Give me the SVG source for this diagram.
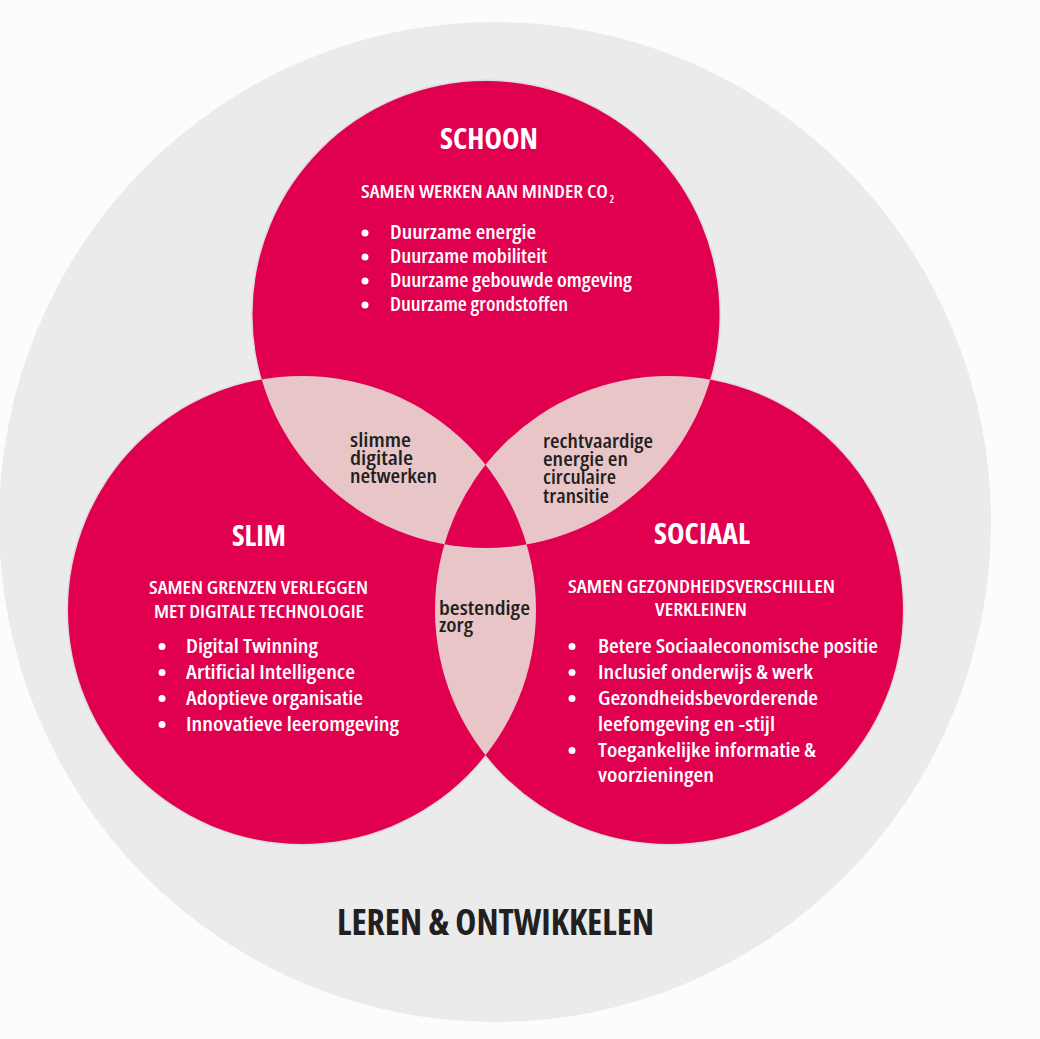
<svg xmlns="http://www.w3.org/2000/svg" width="1040" height="1039" viewBox="0 0 1040 1039">
<style>
  text { font-family: "Open Sans", "Liberation Sans", sans-serif; font-stretch: condensed; }
  .title { font-size: 28px; font-weight: 700; fill: #ffffff; }
  .sub { font-size: 17.5px; font-weight: 600; fill: #ffffff; }
  .subscript { font-size: 10.5px; font-weight: 600; fill: #ffffff; }
  .item { font-size: 19px; font-weight: 600; fill: #ffffff; }
  .lens { font-size: 19px; font-weight: 600; fill: #231f20; }
  .outer { font-size: 35px; font-weight: 700; fill: #231f20; }
  .dot { fill: #ffffff; }
  .red { fill: #e1004f; }
  .pink { fill: #e8c6c8; }
  .halo { fill: #dcdcdc; }
</style>
<defs>
  <clipPath id="cT"><circle cx="486" cy="314.5" r="233.5"/></clipPath>
  <clipPath id="cL"><circle cx="302" cy="610" r="234"/></clipPath>
  <clipPath id="cR"><circle cx="669" cy="610" r="234"/></clipPath>
</defs>
<rect x="0" y="0" width="1040" height="1039" fill="#fcfcfc"/>
<g id="leren-ontwikkelen">
  <ellipse cx="495" cy="522" rx="496" ry="500" fill="#ebebeb"/>
  <text class="outer" x="337" y="935" textLength="317" lengthAdjust="spacingAndGlyphs">LEREN &amp; ONTWIKKELEN</text>
</g>
<g id="circles">
  <circle class="halo" cx="486" cy="314.5" r="235"/>
  <circle class="halo" cx="302" cy="610" r="235.5"/>
  <circle class="halo" cx="669" cy="610" r="235.5"/>
  <circle class="red" cx="486" cy="314.5" r="233.5"/>
  <circle class="red" cx="302" cy="610" r="234"/>
  <circle class="red" cx="669" cy="610" r="234"/>
  <circle class="pink" cx="302" cy="610" r="234" clip-path="url(#cT)"/>
  <circle class="pink" cx="669" cy="610" r="234" clip-path="url(#cT)"/>
  <circle class="pink" cx="302" cy="610" r="234" clip-path="url(#cR)"/>
  <g clip-path="url(#cT)"><circle class="red" cx="302" cy="610" r="234" clip-path="url(#cR)"/></g>
</g>
<g id="schoon">
  <text class="title" x="440" y="149" textLength="98" lengthAdjust="spacingAndGlyphs">SCHOON</text>
  <text class="sub" x="361" y="198" textLength="247" lengthAdjust="spacingAndGlyphs">SAMEN WERKEN AAN MINDER CO</text>
  <text class="subscript" x="609.5" y="203">2</text>
  <circle class="dot" cx="365" cy="233" r="3.5"/>
  <circle class="dot" cx="365" cy="257" r="3.5"/>
  <circle class="dot" cx="365" cy="281" r="3.5"/>
  <circle class="dot" cx="365" cy="305" r="3.5"/>
  <text class="item" x="390" y="239" textLength="146" lengthAdjust="spacingAndGlyphs">Duurzame energie</text>
  <text class="item" x="390" y="263" textLength="157" lengthAdjust="spacingAndGlyphs">Duurzame mobiliteit</text>
  <text class="item" x="390" y="287" textLength="242" lengthAdjust="spacingAndGlyphs">Duurzame gebouwde omgeving</text>
  <text class="item" x="390" y="311" textLength="178" lengthAdjust="spacingAndGlyphs">Duurzame grondstoffen</text>
</g>
<g id="slim">
  <text class="title" x="232" y="546" textLength="54" lengthAdjust="spacingAndGlyphs">SLIM</text>
  <text class="sub" x="149" y="594" textLength="219" lengthAdjust="spacingAndGlyphs">SAMEN GRENZEN VERLEGGEN</text>
  <text class="sub" x="154" y="618" textLength="210" lengthAdjust="spacingAndGlyphs">MET DIGITALE TECHNOLOGIE</text>
  <circle class="dot" cx="162" cy="646.5" r="3.5"/>
  <circle class="dot" cx="162" cy="672.5" r="3.5"/>
  <circle class="dot" cx="162" cy="698.5" r="3.5"/>
  <circle class="dot" cx="162" cy="724.5" r="3.5"/>
  <text class="item" x="186" y="653" textLength="132" lengthAdjust="spacingAndGlyphs">Digital Twinning</text>
  <text class="item" x="186" y="679" textLength="169" lengthAdjust="spacingAndGlyphs">Artificial Intelligence</text>
  <text class="item" x="186" y="705" textLength="177" lengthAdjust="spacingAndGlyphs">Adoptieve organisatie</text>
  <text class="item" x="186" y="731" textLength="213" lengthAdjust="spacingAndGlyphs">Innovatieve leeromgeving</text>
</g>
<g id="sociaal">
  <text class="title" x="654" y="544" textLength="96" lengthAdjust="spacingAndGlyphs">SOCIAAL</text>
  <text class="sub" x="568" y="593" textLength="267" lengthAdjust="spacingAndGlyphs">SAMEN GEZONDHEIDSVERSCHILLEN</text>
  <text class="sub" x="655" y="616" textLength="92" lengthAdjust="spacingAndGlyphs">VERKLEINEN</text>
  <circle class="dot" cx="572" cy="646.5" r="3.5"/>
  <circle class="dot" cx="572" cy="672.5" r="3.5"/>
  <circle class="dot" cx="572" cy="698.5" r="3.5"/>
  <circle class="dot" cx="572" cy="750.5" r="3.5"/>
  <text class="item" x="598" y="653" textLength="280" lengthAdjust="spacingAndGlyphs">Betere Sociaaleconomische positie</text>
  <text class="item" x="598" y="679" textLength="215" lengthAdjust="spacingAndGlyphs">Inclusief onderwijs &amp; werk</text>
  <text class="item" x="598" y="705" textLength="220" lengthAdjust="spacingAndGlyphs">Gezondheidsbevorderende</text>
  <text class="item" x="598" y="731" textLength="177" lengthAdjust="spacingAndGlyphs">leefomgeving en -stijl</text>
  <text class="item" x="598" y="757" textLength="218" lengthAdjust="spacingAndGlyphs">Toegankelijke informatie &amp;</text>
  <text class="item" x="598" y="782" textLength="116" lengthAdjust="spacingAndGlyphs">voorzieningen</text>
</g>
<g id="slimme-digitale-netwerken">
  <text class="lens" x="350" y="447" textLength="61" lengthAdjust="spacingAndGlyphs">slimme</text>
  <text class="lens" x="350" y="465" textLength="63" lengthAdjust="spacingAndGlyphs">digitale</text>
  <text class="lens" x="350" y="483" textLength="87" lengthAdjust="spacingAndGlyphs">netwerken</text>
</g>
<g id="rechtvaardige-transitie">
  <text class="lens" x="543" y="448" textLength="110" lengthAdjust="spacingAndGlyphs">rechtvaardige</text>
  <text class="lens" x="543" y="466" textLength="85" lengthAdjust="spacingAndGlyphs">energie en</text>
  <text class="lens" x="543" y="484" textLength="73" lengthAdjust="spacingAndGlyphs">circulaire</text>
  <text class="lens" x="543" y="502.5" textLength="66" lengthAdjust="spacingAndGlyphs">transitie</text>
</g>
<g id="bestendige-zorg">
  <text class="lens" x="439" y="615" textLength="91" lengthAdjust="spacingAndGlyphs">bestendige</text>
  <text class="lens" x="439" y="632" textLength="34" lengthAdjust="spacingAndGlyphs">zorg</text>
</g>
</svg>
